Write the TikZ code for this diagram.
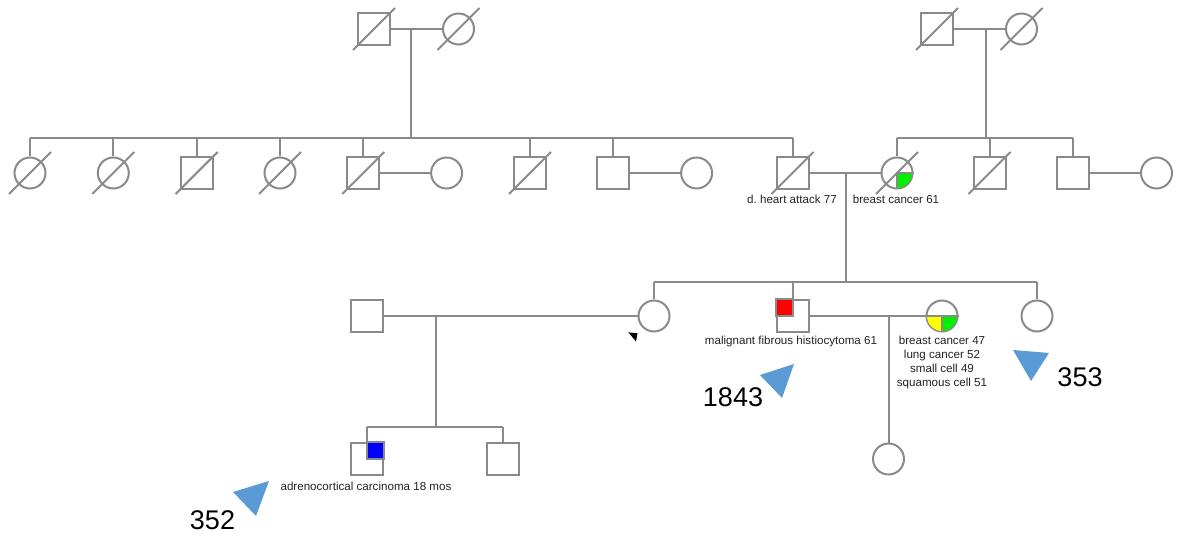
\documentclass[tikz,border=0pt]{standalone}
\usepackage{fontspec}
\setmainfont{Liberation Sans}
\frenchspacing
\definecolor{lc}{HTML}{8A8A8A}
\definecolor{tri}{HTML}{5B9BD5}
\definecolor{qgreen}{HTML}{00F000}
\definecolor{qred}{HTML}{FF0000}
\definecolor{qblue}{HTML}{0000FF}
\definecolor{qyellow}{HTML}{FFFF00}
\definecolor{txt}{HTML}{222222}
\begin{document}
\begin{tikzpicture}[x=1pt,y=-1pt,
  ln/.style={draw=lc,line width=2pt},
  male/.style={rectangle,draw=lc,line width=2pt,minimum size=32pt,inner sep=0pt,fill=white},
  female/.style={circle,draw=lc,line width=2pt,minimum size=31pt,inner sep=0pt,fill=white},
  lbl/.style={font=\fontsize{11.6}{14}\selectfont,align=center,inner sep=0pt,text=txt},
  big/.style={font=\fontsize{27}{30}\selectfont,inner sep=0pt},
  marker/.style={fill=tri}
]
\useasboundingbox (0,0) rectangle (1178,537);

% generation I
\node[male] (g1m) at (374,29) {};
\node[female] (g1f) at (458.5,29) {};
\node[male] (g2m) at (937,29) {};
\node[female] (g2f) at (1021.5,29) {};

% generation II
\node[female] (a1) at (30,173) {};
\node[female] (a2) at (113.3,173) {};
\node[male] (a3) at (196.6,173) {};
\node[female] (a4) at (280,173) {};
\node[male] (a5) at (363.3,173) {};
\node[female] (a5w) at (446.6,173) {};
\node[male] (a6) at (530,173) {};
\node[male] (a7) at (613.3,173) {};
\node[female] (a7w) at (696.6,173) {};
\node[male] (a8) at (792.5,173) {};
\node[female] (b1) at (897,173) {};
\node[male] (b2) at (989.5,173) {};
\node[male] (b3) at (1073,173) {};
\node[female] (b3w) at (1156.5,173) {};

% generation III
\node[male] (c1) at (366.5,316) {};
\node[female] (c2) at (654,316) {};
\node[male] (c3) at (792.5,316) {};
\node[female] (c3w) at (942,316) {};
\node[female] (c4) at (1037,316) {};

% generation IV
\node[male] (d1) at (366.5,459) {};
\node[male] (d2) at (502.5,459) {};
\node[female] (d3) at (888.5,459) {};

% couple lines
\draw[ln] (g1m) -- (g1f);
\draw[ln] (g2m) -- (g2f);
\draw[ln] (a5) -- (a5w);
\draw[ln] (a7) -- (a7w);
\draw[ln] (a8) -- (b1);
\draw[ln] (b3) -- (b3w);
\draw[ln] (c1) -- (c2);
\draw[ln] (c3) -- (c3w);

% descent lines
\coordinate (p1) at (411,29);
\coordinate (s1) at (411,138);
\coordinate (s1L) at (30,138);
\coordinate (s1R) at (792.5,138);
\draw[ln] (p1) -- (s1);
\draw[ln] (s1L) -- (s1R);
\foreach \n in {a1,a2,a3,a4,a5,a6,a7,a8}
  \draw[ln] (\n.north) -- (\n.north |- s1L);

\coordinate (p2) at (986,29);
\coordinate (s2) at (986,138);
\coordinate (s2L) at (897,138);
\coordinate (s2R) at (1073,138);
\draw[ln] (p2) -- (s2);
\draw[ln] (s2L) -- (s2R);
\foreach \n in {b1,b2,b3}
  \draw[ln] (\n.north) -- (\n.north |- s2L);

\coordinate (p3) at (846,173);
\coordinate (s3) at (846,282);
\coordinate (s3L) at (654,282);
\coordinate (s3R) at (1037,282);
\draw[ln] (p3) -- (s3);
\draw[ln] (s3L) -- (s3R);
\foreach \n in {c2,c3,c4}
  \draw[ln] (\n.north) -- (\n.north |- s3L);

\coordinate (p4) at (436,316);
\coordinate (s4) at (436,427);
\coordinate (s4L) at (366.5,427);
\coordinate (s4R) at (502.5,427);
\draw[ln] (p4) -- (s4);
\draw[ln] (s4L) -- (s4R);
\foreach \n in {d1,d2}
  \draw[ln] (\n.north) -- (\n.north |- s4L);

\draw[ln] (d3.north) -- (d3.north |- c3w.center);

% affected quadrants
\begin{scope}
  \clip (b1.center) rectangle ++(20,20);
  \fill[qgreen] (b1.center) circle[radius=15pt];
\end{scope}
\draw[ln] (b1.east) -- (b1.center) -- (b1.south);

\begin{scope}
  \clip (c3w.center) rectangle ++(-20,20);
  \fill[qyellow] (c3w.center) circle[radius=15pt];
\end{scope}
\begin{scope}
  \clip (c3w.center) rectangle ++(20,20);
  \fill[qgreen] (c3w.center) circle[radius=15pt];
\end{scope}
\draw[ln] (c3w.west) -- (c3w.east);
\draw[ln] (c3w.center) -- (c3w.south);

\filldraw[fill=qred,draw=lc,line width=2pt] (c3.center) rectangle (c3.north west);
\filldraw[fill=qblue,draw=lc,line width=2pt] (d1.center) rectangle (d1.north east);

% deceased
\foreach \n in {g1m,g1f,g2m,g2f,a1,a2,a3,a4,a5,a6,a8,b1,b2}
  \draw[ln] ([shift={(-21,21)}]\n.center) -- ([shift={(21,-21)}]\n.center);

% proband marker
\fill[black] (628.3,332.3) -- (637.5,333.3) -- (636,341.5) -- cycle;

% labels
\node[lbl] (t1) at (792,199) {d. heart attack 77};
\node[lbl] (t2) at (896,199) {breast cancer 61};
\node[lbl] (t3) at (791,342) {malignant fibrous histiocytoma 61};
\node[lbl] (t4) at (942,363) {breast cancer 47\\lung cancer 52\\small cell 49\\squamous cell 51};
\node[lbl] (t5) at (366,486) {adrenocortical carcinoma 18 mos};

% numbered markers
\fill[marker] (760,375) -- (794,364) -- (782,398) -- cycle;
\node[big] (n1) at (733,397) {1843};
\fill[marker] (1013,350) -- (1049,353) -- (1031,381) -- cycle;
\node[big] (n2) at (1080,377) {353};
\fill[marker] (233,492) -- (269,481) -- (256,516) -- cycle;
\node[big] (n3) at (212.5,520) {352};
\end{tikzpicture}
\end{document}
